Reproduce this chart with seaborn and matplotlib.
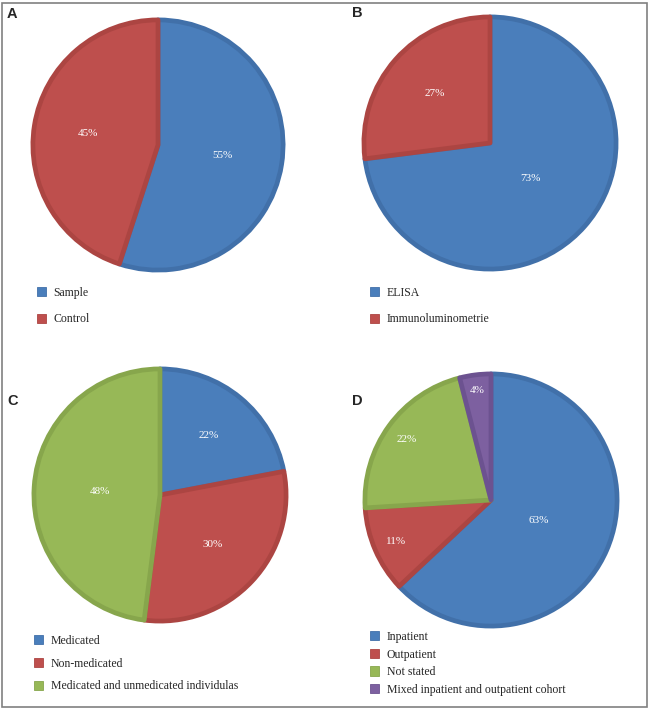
import matplotlib
matplotlib.use("Agg")
import numpy as np
import seaborn as sns
import matplotlib.pyplot as plt
from matplotlib.patches import Patch, Rectangle

# ---- data ----
a_labels = ["Sample", "Control"]
a_values = [55, 45]
b_labels = ["ELISA", "Immunoluminometrie"]
b_values = [73, 27]
c_labels = ["Medicated", "Non-medicated", "Medicated and unmedicated individulas"]
c_values = [22, 30, 48]
d_labels = ["Inpatient", "Outpatient", "Not stated", "Mixed inpatient and outpatient cohort"]
d_values = [63, 11, 22, 4]

fills = ["#4A7EBB", "#BE4F4D", "#97B857", "#7D60A0"]
edges = ["#4170A9", "#AC4542", "#87A64C", "#6C5290"]

sns.set_theme(style="white")
plt.rcParams["font.family"] = ["Liberation Serif", "DejaVu Serif"]

W, H = 649, 710
fig = plt.figure(figsize=(W / 100, H / 100), dpi=100)
fig.patch.set_facecolor("white")


def draw_panel(letter, labels, values, cx, cy, r, lx, lby, leg_x, leg_y, lspacing, dists):
    pad = 1.04
    ax = fig.add_axes([(cx - r * pad) / W, 1 - (cy + r * pad) / H, 2 * r * pad / W, 2 * r * pad / H])
    n = len(values)
    wedges, texts, autotexts = ax.pie(
        values, colors=fills[:n], startangle=90, counterclock=False,
        autopct=lambda p: f"{p:.0f}%", pctdistance=0.5, radius=0.985,
        wedgeprops=dict(linewidth=3.4, joinstyle="round"),
        textprops=dict(color="white", fontsize=8, family=["Liberation Serif", "DejaVu Serif"]),
    )
    for w, e in zip(wedges, edges[:n]):
        w.set_edgecolor(e)
    for w, t, d in zip(wedges, autotexts, dists):
        th = np.deg2rad((w.theta1 + w.theta2) / 2)
        t.set_position((d * np.cos(th), d * np.sin(th)))
    ax.set_xlim(-pad, pad)
    ax.set_ylim(-pad, pad)
    ax.set_aspect("equal")
    ax.axis("off")

    fig.text(lx / W, 1 - lby / H, letter, fontfamily="Liberation Sans", fontweight="bold",
             fontsize=10.5, va="baseline", ha="left")

    handles = [Patch(facecolor=f, edgecolor=e, linewidth=0.6) for f, e in zip(fills[:n], edges[:n])]
    fig.legend(handles, labels, loc="upper left", bbox_to_anchor=(leg_x / W, 1 - leg_y / H),
               frameon=False, fontsize=8.5, handlelength=0.8, handleheight=0.8,
               handletextpad=0.6, labelspacing=lspacing, borderpad=0, borderaxespad=0)


draw_panel("A", a_labels, a_values, 158, 145, 127, 7, 18, 37, 287, 1.2, [0.51, 0.56])
draw_panel("B", b_labels, b_values, 490, 143, 128, 352, 17, 370, 287, 1.2, [0.42, 0.58])
draw_panel("C", c_labels, c_values, 160, 495, 128, 7, 405, 34, 635, 0.9, [0.6, 0.56, 0.47])
draw_panel("D", d_labels, d_values, 491, 500, 128, 352, 405, 370, 631, 0.47, [0.41, 0.81, 0.81, 0.86])

fig.add_artist(Rectangle((2 / W, 3 / H), 645 / W, 704 / H, transform=fig.transFigure,
                         fill=False, edgecolor="#808080", linewidth=1.2))

fig.savefig("out.png", dpi=100, facecolor="white")
